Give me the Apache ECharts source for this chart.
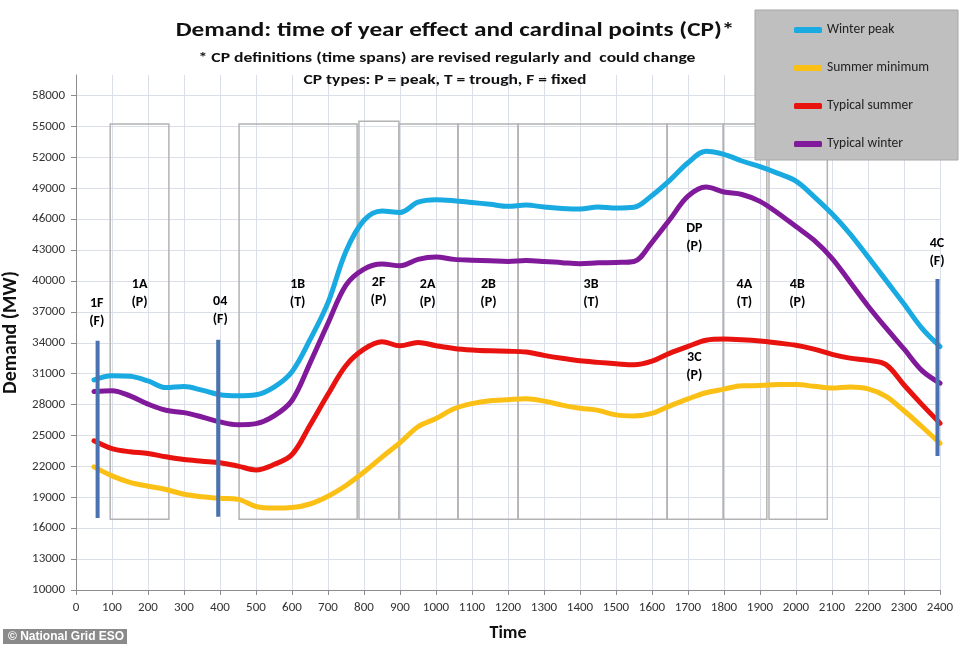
<!DOCTYPE html>
<html><head><meta charset="utf-8">
<script src="https://cdn.jsdelivr.net/npm/echarts@6/dist/echarts.min.js"></script>
<style>html,body{margin:0;padding:0;background:#fff}#c{width:962px;height:646px}</style>
</head><body><div id="c"></div>
<script>
// ---- data ----
const times = [50,100,150,200,250,300,350,400,450,500,550,600,650,700,750,800,850,900,950,1000,1050,1100,1150,1200,1250,1300,1350,1400,1450,1500,1550,1600,1650,1700,1750,1800,1850,1900,1950,2000,2050,2100,2150,2200,2250,2300,2350,2400];
const winterPeak = [30400,30800,30750,30300,29650,29750,29400,28950,28850,28950,29700,31200,34300,37900,42900,45900,46800,46660,47650,47900,47800,47620,47450,47250,47380,47180,47050,46990,47190,47080,47150,48300,49800,51480,52600,52300,51650,51100,50450,49700,48200,46520,44580,42340,40060,37760,35400,33640];
const summerMinimum = [21950,21080,20450,20080,19760,19290,19050,18900,18800,18110,17950,18000,18350,19100,20150,21450,22900,24300,25850,26650,27600,28100,28380,28480,28560,28340,27950,27650,27440,27000,26900,27150,27880,28560,29150,29500,29830,29850,29950,29940,29780,29600,29700,29520,28800,27400,25850,24250];
const typicalSummer = [24480,23730,23420,23260,22930,22660,22500,22350,22030,21660,22180,23150,26000,29000,31800,33380,34100,33710,34030,33720,33450,33300,33220,33180,33100,32780,32500,32250,32100,31970,31860,32220,33000,33650,34250,34360,34300,34180,33980,33760,33380,32880,32510,32300,31880,29900,28000,26200];
const typicalWinter = [29270,29350,28850,28050,27450,27220,26800,26320,26040,26150,26900,28400,32030,35900,39600,41150,41650,41480,42100,42330,42100,42020,41960,41900,41980,41900,41780,41680,41760,41800,41900,43760,46000,48230,49120,48640,48400,47730,46580,45280,43960,42200,39900,37580,35440,33400,31300,30080];
const seriesNames = ['Winter peak','Summer minimum','Typical summer','Typical winter'];

// CP time-span boxes
const boxStart  = [95, 453, 786, 897, 1061, 1228, 1642, 1798, 1925];
const boxEnd    = [258, 781, 897, 1061, 1228, 1642, 1798, 1919, 2087];
const boxTop    = [55250, 55250, 55500, 55250, 55250, 55250, 55250, 55250, 55250];
const boxBottom = [16870, 16870, 16870, 16870, 16870, 16870, 16870, 16870, 16870];

// fixed CP markers
const fixedTimes  = [60, 395, 2393];
const fixedTop    = [34200, 34300, 40190];
const fixedBottom = [17000, 17120, 23020];

// CP labels
const cpLabels = ['1F\n(F)','1A\n(P)','04\n(F)','1B\n(T)','2F\n(P)','2A\n(P)','2B\n(P)','3B\n(T)','DP\n(P)','3C\n(P)','4A\n(T)','4B\n(P)','4C\n(F)'];
const cpLabelTimes  = [59, 178, 402, 617, 842, 978, 1147, 1432, 1719, 1719, 1858, 2005, 2393];
const cpLabelValues = [36870, 38700, 37110, 38700, 38900, 38700, 38700, 38700, 44170, 31620, 38760, 38700, 42720];

const yTicks = [10000,58000,3000];
const xTicks = [0,2400,100];

// ---- chart ----
const FONT = 'Carlito, Lato, "Open Sans", sans-serif';
const colors = ['#1aaae2','#fbc016','#e8120f','#80199a'];
const values = [winterPeak, summerMinimum, typicalSummer, typicalWinter];

const chart = echarts.init(document.getElementById('c'), null, {renderer:'canvas'});

const lineSeries = seriesNames.map((n,i)=>({
  name:n, type:'line', smooth:0.35, showSymbol:false, symbol:'none',
  data: times.map((t,k)=>[t, values[i][k]]),
  lineStyle:{color:colors[i], width:5, cap:'round', join:'round'},
  itemStyle:{color:colors[i]}, z:3, silent:true
}));

const boxSeries = {
  type:'line', data:[], silent:true, z:1,
  markArea:{
    silent:true,
    itemStyle:{color:'rgba(0,0,0,0)', borderColor:'#b3b3b3', borderWidth:1.5},
    data: boxStart.map((s,i)=>[{coord:[s, boxTop[i]]},{coord:[boxEnd[i], boxBottom[i]]}])
  }
};

const fixedSeries = fixedTimes.map((t,i)=>({
  type:'line', silent:true, symbol:'none', z:5,
  data:[[t, fixedTop[i]],[t, fixedBottom[i]]],
  lineStyle:{color:'#4a72b0', width:4}
}));

const labelSeries = {
  type:'scatter', silent:true, symbolSize:1, z:6,
  itemStyle:{color:'rgba(0,0,0,0)', opacity:1},
  data: cpLabelTimes.map((t,i)=>[t, cpLabelValues[i]]),
  label:{show:true, position:[0,0], align:'center', verticalAlign:'middle',
    formatter:(p)=>cpLabels[p.dataIndex], opacity:1,
    fontFamily:FONT, fontWeight:'bold', fontSize:14, lineHeight:18, color:'#000',
    textBorderWidth:0}
};

chart.setOption({
  animation:false,
  textStyle:{fontFamily:FONT},
  grid:{left:76, right:22, top:75, bottom:56, containLabel:false, outerBoundsMode:'none'},
  xAxis:{
    type:'value', min:xTicks[0], max:xTicks[1], interval:xTicks[2],
    name:'Time', nameLocation:'middle', nameGap:34,
    nameTextStyle:{fontFamily:FONT, fontWeight:'bold', fontSize:18, color:'#111'},
    axisLine:{show:true, lineStyle:{color:'#8c8c8c', width:1}},
    axisTick:{show:true, inside:false, length:5, lineStyle:{color:'#8c8c8c'}},
    axisLabel:{fontFamily:FONT, fontSize:13, color:'#333', margin:11, formatter:(v)=>String(v)},
    splitLine:{show:true, lineStyle:{color:'#dadfe8', width:1}}
  },
  yAxis:{
    type:'value', min:yTicks[0], max:60000, interval:yTicks[2],
    name:'Demand (MW)', nameLocation:'middle', nameGap:46,
    nameTextStyle:{fontFamily:FONT, fontWeight:'bold', fontSize:20, color:'#111'},
    axisLine:{show:true, lineStyle:{color:'#8c8c8c', width:1}},
    axisTick:{show:true, length:5, lineStyle:{color:'#8c8c8c'}},
    axisLabel:{fontFamily:FONT, fontSize:13, color:'#333', margin:11, showMaxLabel:false,
      formatter:(v)=> v>yTicks[1] ? '' : String(v)},
    splitLine:{show:true, showMaxLine:false, lineStyle:{color:'#dadfe8', width:1}}
  },
  legend:{
    data:seriesNames, orient:'vertical', left:789, top:18, itemGap:24,
    itemWidth:28, itemHeight:6, icon:'roundRect', z:20,
    textStyle:{fontFamily:FONT, fontSize:13.5, color:'#222', lineHeight:14},
    selectedMode:false
  },
  graphic:[
    {type:'rect', z:15, shape:{x:755, y:10, width:203, height:150},
      style:{fill:'#bfbfbf', stroke:'#a6a6a6', lineWidth:1}},
    {type:'text', z:15, x:455, y:31, scaleX:1.26, style:{text:'Demand: time of year effect and cardinal points (CP)*',
      font:'bold 20px '+FONT, fill:'#111', textAlign:'center', textVerticalAlign:'middle'}},
    {type:'text', z:15, x:447, y:58, scaleX:1.26, style:{text:'* CP definitions (time spans) are revised regularly and  could change',
      font:'bold 14px '+FONT, fill:'#111', textAlign:'center', textVerticalAlign:'middle'}},
    {type:'text', z:15, x:445, y:80, scaleX:1.25, style:{text:'CP types: P = peak, T = trough, F = fixed',
      font:'bold 14px '+FONT, fill:'#111', textAlign:'center', textVerticalAlign:'middle'}},
    {type:'rect', z:15, shape:{x:3, y:629, width:124, height:15}, style:{fill:'#8a8a8a'}},
    {type:'text', z:16, x:8, y:636.5, style:{text:'© National Grid ESO',
      font:'bold 12px "Liberation Sans", Arial, sans-serif', fill:'#fff', textAlign:'left', textVerticalAlign:'middle'}}
  ],
  series:[boxSeries, ...lineSeries, ...fixedSeries, labelSeries]
});
</script>
</body></html>
